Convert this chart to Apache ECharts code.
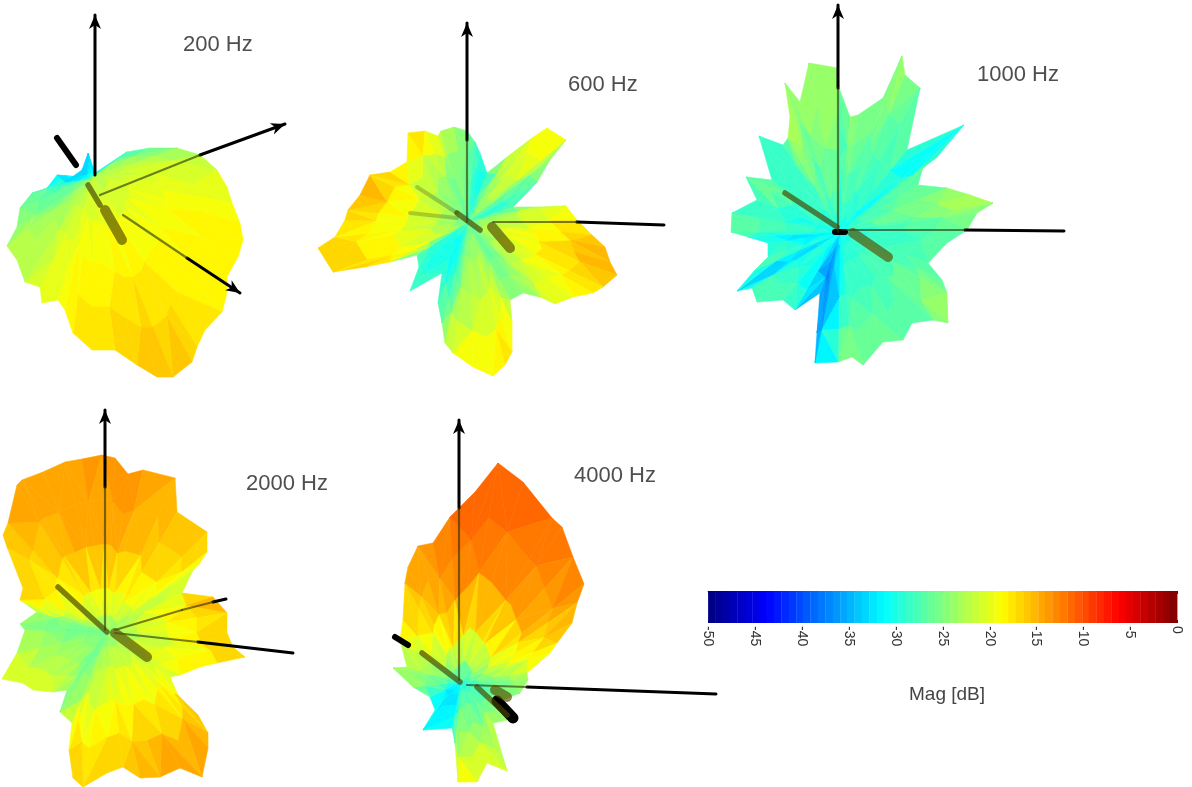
<!DOCTYPE html>
<html><head><meta charset="utf-8">
<script src="https://cdn.jsdelivr.net/npm/echarts@6/dist/echarts.min.js"></script>
<style>html,body{margin:0;padding:0;background:#fff}#c{width:1192px;height:787px;filter:blur(0.4px)}</style>
</head><body><div id="c"></div>
<script>
// Outline rows: x, y, rim dB, mid-radius dB
const lobe200 = [[88,153,-33,-32],[95,173,-33,-30],[127,152,-29,-24],[150,148,-27,-23],[177,148,-25,-22],[200,155,-22,-21],[217,170,-20.5,-20.5],[227,187,-20,-20],[232,203,-19.5,-19.5],[240,223,-18.5,-19],[243,240,-18,-19],[238,257,-18,-19],[227,277,-18,-19],[227,293,-18,-19],[222,312,-18,-18.5],[205,330,-17.5,-18.5],[197,347,-17,-18],[192,362,-16,-18],[173,377,-15.5,-18],[157,377,-15.5,-18],[137,365,-16,-18],[115,350,-17,-18.5],[92,350,-17,-18.5],[73,333,-18,-19],[65,310,-18.5,-19],[58,300,-19.5,-20],[42,303,-20,-20],[40,287,-20,-20.5],[25,282,-22,-22],[17,260,-22.5,-23],[7,246,-22,-24],[17,227,-24,-26],[20,208,-25,-27],[32,193,-27,-28],[47,188,-28,-29],[57,175,-32,-31],[65,182,-33,-32],[75,175,-33,-32],[82,170,-34,-33]];
const lobe600 = [[454,127,-24,-24],[467,131,-25,-26],[475,142,-27,-28],[480,153,-29,-30],[487,173,-30,-30],[507,157,-22,-24],[532,138,-20,-22],[547,128,-18,-21],[566,140,-19,-21],[550,160,-24,-26],[537,182,-26,-28],[523,197,-28,-30],[513,207,-27,-29],[537,207,-22,-24],[566,206,-19,-22],[577,220,-18,-21],[592,235,-16,-20],[605,247,-15,-19],[610,262,-14,-18],[617,275,-15,-18],[603,287,-17,-19],[593,293,-18,-19],[573,297,-19,-21],[555,304,-20,-22],[540,297,-22,-24],[523,293,-24,-26],[510,300,-24,-26],[512,323,-19,-23],[512,352,-17,-21],[505,365,-17,-21],[493,376,-18,-22],[473,367,-19,-22],[453,353,-19,-24],[445,343,-22,-27],[442,323,-25,-29],[438,303,-27,-31],[442,273,-29,-32],[410,291,-27,-30],[419,267,-29,-31],[417,255,-27,-29],[390,262,-18,-20],[365,267,-17,-20],[333,272,-16,-19],[318,248,-16,-19],[335,237,-17,-20],[345,220,-17,-20],[348,210,-16,-20],[360,195,-14.5,-20],[370,175,-15,-20],[390,172,-17,-22],[407,162,-19,-24],[408,133,-16,-23],[425,131,-17,-24],[438,136,-20,-26],[441,131,-21,-26]];
const lobe1000 = [[809,63,-23,-24],[838,68,-24,-26],[839,88,-28,-29],[850,117,-24,-27],[858,115,-24,-26],[883,98,-26,-28],[902,56,-23,-26],[905,75,-24,-27],[920,88,-26,-28],[907,150,-27,-28],[964,125,-33,-32],[937,157,-27,-27],[923,167,-26,-27],[918,185,-27,-28],[947,188,-25,-26],[970,195,-23,-26],[993,203,-22,-25],[977,213,-25,-27],[967,230,-26,-28],[947,243,-27,-29],[928,263,-27,-28],[942,280,-27,-28],[947,293,-24,-27],[948,323,-23,-27],[933,320,-26,-27],[912,323,-27,-28],[903,340,-26,-28],[883,342,-26,-28],[863,365,-25,-28],[852,357,-24,-29],[838,362,-25,-31],[815,363,-34,-36],[817,333,-35,-37],[820,293,-36,-37],[795,310,-29,-33],[783,300,-27,-30],[757,302,-27,-29],[752,288,-27,-30],[737,291,-35,-36],[755,270,-27,-30],[768,257,-27,-29],[768,243,-30,-33],[748,237,-29,-32],[731,232,-27,-28],[732,213,-27,-28],[757,200,-29,-31],[746,177,-24,-27],[772,180,-28,-29],[759,136,-28,-28],[783,145,-29,-29],[788,138,-23,-26],[790,117,-22,-26],[785,83,-23,-27],[800,102,-24,-27]];
const lobe2000 = [[65,462,-14,-15],[82,459,-14,-15],[102,455,-13.5,-15],[115,458,-14,-15],[128,474,-13,-15],[143,470,-14,-15.5],[175,478,-15,-16],[177,512,-15,-17],[207,532,-16,-18],[207,552,-17,-19],[200,563,-19,-20],[193,570,-20,-21],[182,593,-21,-22],[213,597,-14,-19],[227,613,-16,-19],[227,633,-17,-20],[233,647,-15,-20],[245,657,-16,-21],[217,663,-17,-20],[200,667,-18,-20],[180,675,-19,-21],[170,677,-21,-22],[178,695,-17,-21],[198,715,-16,-20],[208,733,-15,-19],[208,748,-14,-19],[202,777,-13.5,-18],[180,768,-14,-18],[160,777,-14,-18],[140,778,-15,-19],[123,767,-16,-19],[107,773,-16,-20],[83,787,-16,-20],[73,778,-16,-21],[69,750,-16,-21],[72,723,-19,-24],[60,712,-24,-26],[67,690,-24,-26],[53,692,-20,-24],[33,690,-20,-23],[23,683,-20,-23],[2,679,-20,-23],[17,653,-21,-24],[25,630,-24,-26],[20,624,-25,-26],[37,612,-23,-25],[20,600,-17,-22],[23,588,-16,-20],[7,547,-16,-18],[3,535,-15.5,-18],[8,523,-15,-17],[17,485,-13.5,-16],[22,480,-14,-15.5],[43,472,-14,-15]];
const lobe4000 = [[498,463,-11,-13],[523,482,-11,-13],[552,518,-11,-13.5],[562,527,-12,-14],[573,557,-12.5,-15],[584,584,-12.5,-15.5],[577,603,-14.5,-17],[572,623,-15.5,-18],[557,643,-16.5,-20],[550,653,-18,-21],[527,673,-21,-24],[528,680,-23,-25],[520,693,-24,-27],[503,700,-24,-28],[507,720,-23,-26],[493,723,-23,-27],[507,771,-19,-25],[487,763,-20,-25],[477,782,-18.5,-24],[458,782,-18.5,-24],[455,743,-22,-28],[452,728,-30,-32],[423,730,-31,-33],[435,710,-30,-33],[430,697,-30,-31],[413,687,-23,-26],[393,668,-23,-25],[407,667,-23,-24],[400,640,-20,-22],[403,620,-17,-20],[405,583,-15,-18],[408,567,-14,-17],[418,546,-13.5,-15.5],[433,543,-13.5,-15],[450,517,-12,-14],[475,492,-11,-13]];
// Lobe centres: x, y, centre dB
const lobeCentres = [[92,178,-23],[468,222,-27],[840,232,-31],[107,632,-26],[460,682,-31]];
const lobes = [lobe200, lobe600, lobe1000, lobe2000, lobe4000];

// Axis lines
const axisOutside = [[95,175,95,15],[200,155,285,124],[187,258,240,293],[467,140,467,23],[577,222,664,225],[838,88,838,5],[965,230,1064,231],[105,487,105,410],[198,642,293,653],[213,602,226,599],[459,508,459,420],[527,687,716,694]];
const axisInside = [[100,195,200,155],[123,215,187,258],[467,222,467,140],[493,222,577,222],[838,232,838,88],[843,230,965,230],[105,630,105,487],[115,633,198,642],[115,630,182,610],[182,610,213,602],[459,680,459,508],[467,685,527,687]];
const arrowLines = [[95,175,95,15],[200,155,285,124],[187,258,240,293],[467,140,467,23],[838,88,838,5],[105,487,105,410],[459,508,459,420]];
const blackBodies = [[57,138,76,165],[395,637,408,645],[835,232,845,232]];
const blackRing = [[497,701,513,718]];
const micThin = [[88,185,100,205],[457,213,480,230],[785,193,837,227],[58,587,107,632],[422,653,460,682],[477,687,507,715]];
const micThick = [[105,210,122,240],[492,227,510,248],[853,233,888,257],[115,633,147,657],[495,690,507,697]];
const micFaint = [[417,187,457,213],[410,213,457,218]];

const freqLabels = ['200 Hz','600 Hz','1000 Hz','2000 Hz','4000 Hz'];
const freqLabelX = [183,568,977,246,574];
const freqLabelY = [45,85,75,484,476];

const colorbarLevels = [-49.6,-48.8,-48.1,-47.3,-46.5,-45.7,-44.9,-44.1,-43.4,-42.6,-41.8,-41.0,-40.2,-39.5,-38.7,-37.9,-37.1,-36.3,-35.5,-34.8,-34.0,-33.2,-32.4,-31.6,-30.9,-30.1,-29.3,-28.5,-27.7,-26.9,-26.2,-25.4,-24.6,-23.8,-23.0,-22.3,-21.5,-20.7,-19.9,-19.1,-18.3,-17.6,-16.8,-16.0,-15.2,-14.4,-13.7,-12.9,-12.1,-11.3,-10.5,-9.7,-9.0,-8.2,-7.4,-6.6,-5.8,-5.1,-4.3,-3.5,-2.7,-1.9,-1.1,-0.4];
const colorbarMin = -50, colorbarMax = 0, colorbarStep = 5;

function jet(db){
  let i = Math.floor((db + 50) / 50 * 64); i = Math.max(0, Math.min(63, i));
  const t = (i + 0.5) / 64, c = v => Math.round(255 * Math.max(0, Math.min(1, 1.5 - Math.abs(4 * t - v))));
  return `rgb(${c(3)},${c(2)},${c(1)})`;
}

// Mesh facets from outline tables
const facets = [];
const rings = [0, 0.1, 0.25, 0.5, 0.75, 1];
lobes.forEach((rows, k) => {
  const [cx, cy, cdb] = lobeCentres[k];
  const node = (row, f) => [cx + (row[0] - cx) * f, cy + (row[1] - cy) * f,
    f <= 0.5 ? cdb + (row[3] - cdb) * Math.pow(f / 0.5, 0.55) : row[3] + (row[2] - row[3]) * (f - 0.5) / 0.5];
  rows.forEach((a, i) => {
    const b = rows[(i + 1) % rows.length];
    for (let r = 0; r < rings.length - 1; r++) {
      const a0 = node(a, rings[r]), a1 = node(a, rings[r + 1]), b0 = node(b, rings[r]), b1 = node(b, rings[r + 1]);
      const tri = (p, q, s) => facets.push([p[0], p[1], q[0], q[1], s[0], s[1], (p[2] + q[2] + s[2]) / 3]);
      if (r === 0) { tri(a0, a1, b1); }
      else if ((i + r) % 2) { tri(a0, a1, b1); tri(a0, b1, b0); }
      else { tri(a0, a1, b0); tri(a1, b1, b0); }
    }
  });
});

function lineSeries(rows, width, color, z) {
  return { type: 'custom', xAxisIndex: 0, yAxisIndex: 0, z, clip: false, silent: true, data: rows,
    renderItem(p, api) {
      const s = api.coord([api.value(0), api.value(1)]), e = api.coord([api.value(2), api.value(3)]);
      return { type: 'line', shape: { x1: s[0], y1: s[1], x2: e[0], y2: e[1] }, style: { stroke: color, lineWidth: width, lineCap: 'round' } };
    } };
}

const chart = echarts.init(document.getElementById('c'));
chart.setOption({
  animation: false,
  backgroundColor: '#fff',
  grid: [{ left: 0, top: 0, width: 1192, height: 787 }, { left: 708, top: 591, width: 469, height: 32 }],
  xAxis: [
    { gridIndex: 0, type: 'value', min: 0, max: 1192, show: false },
    { gridIndex: 1, type: 'value', min: colorbarMin, max: colorbarMax, interval: colorbarStep, position: 'bottom',
      splitLine: { show: false }, axisLine: { show: false },
      axisTick: { show: true, inside: true, length: 3, lineStyle: { color: '#222' } },
      axisLabel: { rotate: -90, margin: 3, color: '#333', fontFamily: 'Liberation Sans', fontSize: 14, hideOverlap: false, showMinLabel: true, showMaxLabel: true },
      name: 'Mag [dB]', nameLocation: 'middle', nameGap: 62,
      nameTextStyle: { color: '#444', fontFamily: 'Liberation Sans', fontSize: 19, padding: [0, 0, 0, 9] } },
    { gridIndex: 1, type: 'value', min: colorbarMin, max: colorbarMax, interval: colorbarStep, position: 'top',
      splitLine: { show: false }, axisLabel: { show: false },
      axisLine: { show: true, lineStyle: { color: '#777', width: 1 } },
      axisTick: { show: true, inside: true, length: 3, lineStyle: { color: '#222' } } }
  ],
  yAxis: [
    { gridIndex: 0, type: 'value', min: 0, max: 787, inverse: true, show: false },
    { gridIndex: 1, type: 'value', min: 0, max: 1, show: false }
  ],
  series: [
    { type: 'custom', name: 'Mesh', xAxisIndex: 0, yAxisIndex: 0, z: 3, clip: false, silent: true, data: facets,
      renderItem(p, api) {
        const pts = [0, 2, 4].map(j => api.coord([api.value(j), api.value(j + 1)]));
        const col = jet(api.value(6));
        return { type: 'polygon', shape: { points: pts }, style: { fill: col, stroke: col, lineWidth: 0.6 } };
      } },
    lineSeries(axisOutside, 3, '#000', 4),
    lineSeries(blackBodies, 6, '#000', 4),
    lineSeries(blackRing, 11, '#000', 4),
    { type: 'custom', xAxisIndex: 0, yAxisIndex: 0, z: 4, clip: false, silent: true, data: arrowLines,
      renderItem(p, api) {
        const s = api.coord([api.value(0), api.value(1)]), e = api.coord([api.value(2), api.value(3)]);
        const L = Math.hypot(e[0] - s[0], e[1] - s[1]), ux = (e[0] - s[0]) / L, uy = (e[1] - s[1]) / L;
        const len = 14, hw = 6;
        return { type: 'polygon', shape: { points: [e,
          [e[0] - ux * len - uy * hw, e[1] - uy * len + ux * hw],
          [e[0] - ux * (len - 4), e[1] - uy * (len - 4)],
          [e[0] - ux * len + uy * hw, e[1] - uy * len - ux * hw]] }, style: { fill: '#000' } };
      } },
    lineSeries(axisInside, 2.2, 'rgba(40,50,10,0.62)', 5),
    lineSeries(micFaint, 4, 'rgba(60,70,20,0.28)', 5),
    lineSeries(micThin, 5.5, 'rgba(70,70,0,0.68)', 6),
    lineSeries(micThick, 10, 'rgba(90,80,0,0.68)', 6),
    { type: 'scatter', xAxisIndex: 0, yAxisIndex: 0, z: 7, silent: true, symbolSize: 0,
      data: freqLabels.map((t, i) => ({ value: [freqLabelX[i], freqLabelY[i]], name: t })),
      label: { show: true, position: 'right', distance: 0, formatter: '{b}', color: '#222', fontFamily: 'Liberation Sans', fontSize: 22 } },
    { type: 'custom', xAxisIndex: 1, yAxisIndex: 1, z: 1, silent: true, clip: false, data: colorbarLevels.map(v => [v]),
      renderItem(p, api) {
        const v = api.value(0), half = 50 / 64 / 2;
        const a = api.coord([v - half, 1]), b = api.coord([v + half, 0]);
        return { type: 'rect', shape: { x: a[0], y: a[1], width: b[0] - a[0] + 0.5, height: b[1] - a[1] }, style: { fill: jet(v) } };
      } }
  ]
});
</script></body></html>
